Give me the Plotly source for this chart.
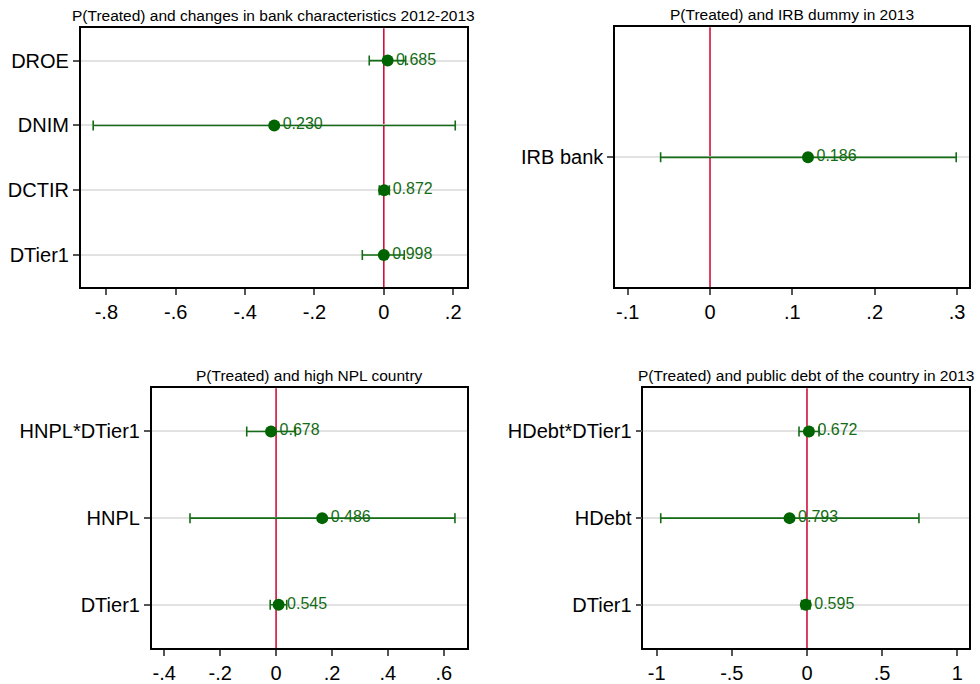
import plotly.graph_objects as go

# Panel 1: changes in bank characteristics 2012-2013
p1_vars = ["DROE", "DNIM", "DCTIR", "DTier1"]
p1_coef = [0.011, -0.316, 0.001, 0.000]
p1_lo = [-0.042, -0.838, -0.013, -0.062]
p1_hi = [0.063, 0.206, 0.016, 0.059]
p1_pval = ["0.685", "0.230", "0.872", "0.998"]
p1_ticks = [-0.8, -0.6, -0.4, -0.2, 0, 0.2]
p1_ticktext = ["-.8", "-.6", "-.4", "-.2", "0", ".2"]

# Panel 2: IRB dummy in 2013
p2_vars = ["IRB bank"]
p2_coef = [0.119]
p2_lo = [-0.060]
p2_hi = [0.299]
p2_pval = ["0.186"]
p2_ticks = [-0.1, 0, 0.1, 0.2, 0.3]
p2_ticktext = ["-.1", "0", ".1", ".2", ".3"]

# Panel 3: high NPL country
p3_vars = ["HNPL*DTier1", "HNPL", "DTier1"]
p3_coef = [-0.018, 0.165, 0.009]
p3_lo = [-0.105, -0.308, -0.021]
p3_hi = [0.069, 0.640, 0.038]
p3_pval = ["0.678", "0.486", "0.545"]
p3_ticks = [-0.4, -0.2, 0, 0.2, 0.4, 0.6]
p3_ticktext = ["-.4", "-.2", "0", ".2", ".4", ".6"]

# Panel 4: public debt of the country in 2013
p4_vars = ["HDebt*DTier1", "HDebt", "DTier1"]
p4_coef = [0.013, -0.116, -0.008]
p4_lo = [-0.053, -0.973, -0.036]
p4_hi = [0.080, 0.745, 0.020]
p4_pval = ["0.672", "0.793", "0.595"]
p4_ticks = [-1, -0.5, 0, 0.5, 1]
p4_ticktext = ["-1", "-.5", "0", ".5", "1"]

titles = [
    "P(Treated) and changes in bank characteristics 2012-2013",
    "P(Treated) and IRB dummy in 2013",
    "P(Treated) and high NPL country",
    "P(Treated) and public debt of the country in 2013",
]

W, H = 980, 684
FONT = "Liberation Sans, Arial, sans-serif"
MARKER = "#006400"
LINE = "#146c16"
REF = "#d0103c"

# panel geometry in pixels: (left, right, top, bottom) and x-range
panels = [
    dict(vars=p1_vars, coef=p1_coef, lo=p1_lo, hi=p1_hi, pv=p1_pval,
         tv=p1_ticks, tt=p1_ticktext, box=(80.7, 466.7, 28.3, 288.3), xr=[-0.874, 0.239]),
    dict(vars=p2_vars, coef=p2_coef, lo=p2_lo, hi=p2_hi, pv=p2_pval,
         tv=p2_ticks, tt=p2_ticktext, box=(615, 969.3, 27.3, 288.3), xr=[-0.1154, 0.3149]),
    dict(vars=p3_vars, coef=p3_coef, lo=p3_lo, hi=p3_hi, pv=p3_pval,
         tv=p3_ticks, tt=p3_ticktext, box=(151.7, 466.7, 389.3, 650), xr=[-0.445, 0.682]),
    dict(vars=p4_vars, coef=p4_coef, lo=p4_lo, hi=p4_hi, pv=p4_pval,
         tv=p4_ticks, tt=p4_ticktext, box=(643.3, 969, 389.3, 650), xr=[-1.089, 1.078]),
]

fig = go.Figure()
layout = dict(
    width=W, height=H,
    margin=dict(l=0, r=0, t=0, b=0),
    paper_bgcolor="white", plot_bgcolor="white",
    showlegend=False,
    font=dict(family=FONT, color="black"),
)
shapes = []
annotations = []

for i, p in enumerate(panels):
    n = i + 1
    xa = "x" if n == 1 else f"x{n}"
    ya = "y" if n == 1 else f"y{n}"
    xkey = "xaxis" if n == 1 else f"xaxis{n}"
    ykey = "yaxis" if n == 1 else f"yaxis{n}"
    left, right, top, bottom = p["box"]
    k = len(p["vars"])
    pos = list(range(1, k + 1))

    plus = [h - c for h, c in zip(p["hi"], p["coef"])]
    minus = [c - l for c, l in zip(p["coef"], p["lo"])]

    fig.add_trace(go.Scatter(
        x=p["coef"], y=pos, xaxis=xa, yaxis=ya,
        mode="markers+text",
        marker=dict(color=MARKER, size=12),
        text=p["pv"], textposition="middle right",
        textfont=dict(color=LINE, size=16, family=FONT),
        error_x=dict(type="data", symmetric=False, array=plus, arrayminus=minus,
                     color=LINE, thickness=1.6, width=5),
        cliponaxis=False,
    ))

    layout[xkey] = dict(
        domain=[left / W, right / W], anchor=ya,
        range=p["xr"], tickvals=p["tv"], ticktext=p["tt"],
        showgrid=False, zeroline=False,
        showline=True, mirror=True, linecolor="black", linewidth=1.5,
        ticks="outside", ticklen=6, tickwidth=1.5, tickcolor="#555555",
        tickfont=dict(size=20, family=FONT, color="black"),
    )
    layout[ykey] = dict(
        domain=[1 - bottom / H, 1 - top / H], anchor=xa,
        range=[k + 0.5, 0.5], tickvals=pos, ticktext=p["vars"],
        showgrid=True, gridcolor="#e2e2e2", gridwidth=2,
        zeroline=False,
        showline=True, mirror=True, linecolor="black", linewidth=1.5,
        ticks="outside", ticklen=6, tickwidth=1.5, tickcolor="#555555",
        tickfont=dict(size=20, family=FONT, color="black"),
    )

    # reference line at zero
    shapes.append(dict(type="line", xref=xa, yref=f"{ya} domain",
                       x0=0, x1=0, y0=0, y1=1,
                       line=dict(color=REF, width=1.6), layer="below"))

    annotations.append(dict(
        text=titles[i], xref="paper", yref="paper",
        x=(left + right) / 2 / W, y=1 - (top - 13) / H,
        xanchor="center", yanchor="middle", showarrow=False,
        font=dict(size=15.5, family=FONT, color="black"),
    ))

layout["shapes"] = shapes
layout["annotations"] = annotations
fig.update_layout(**layout)

fig.write_html("out.html")
